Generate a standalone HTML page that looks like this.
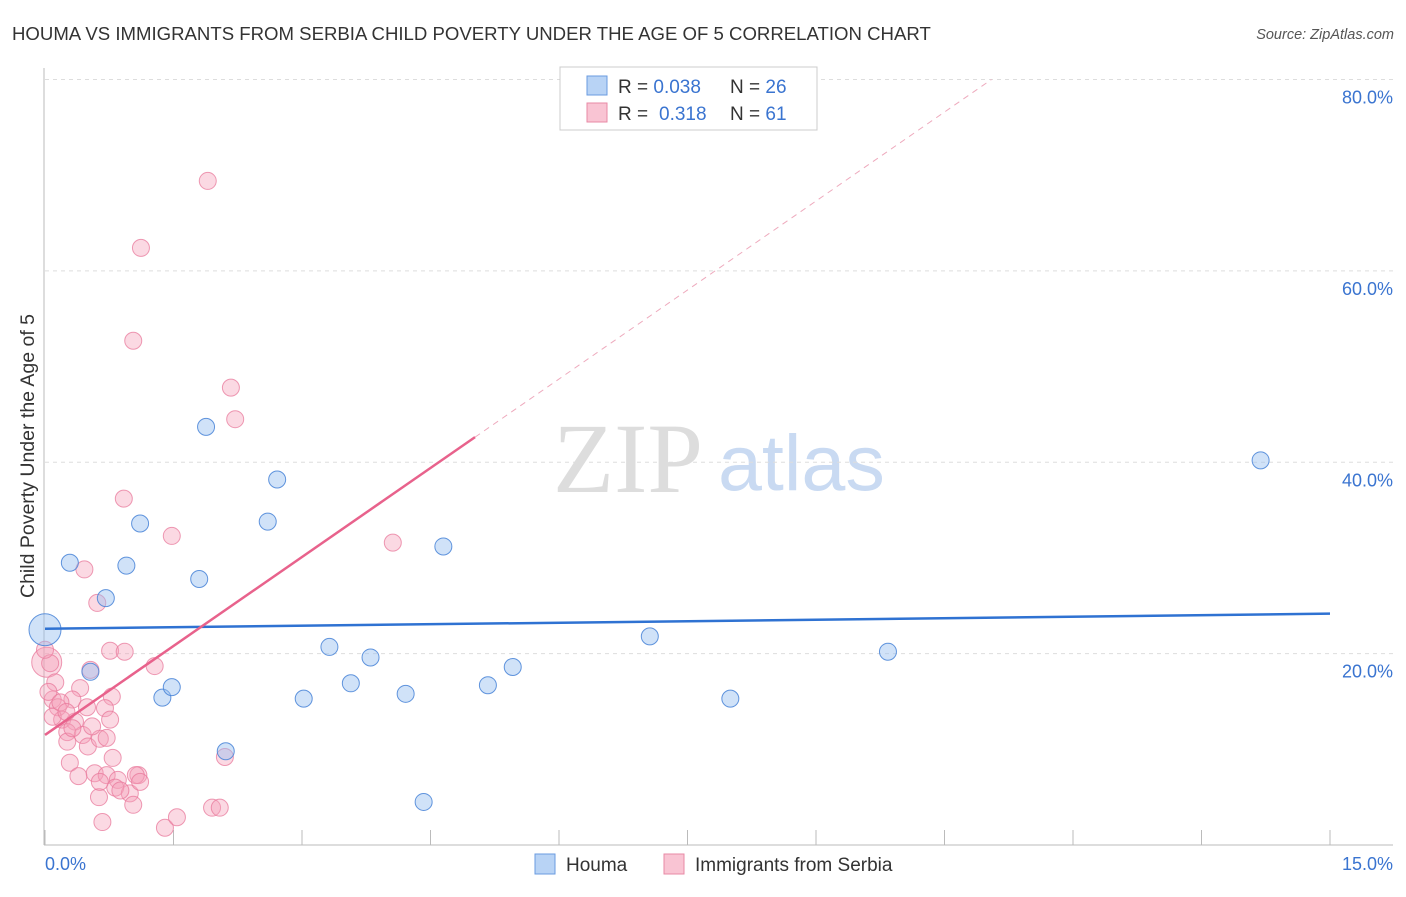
<!DOCTYPE html>
<html><head><meta charset="utf-8"><style>
body{margin:0;background:#fff;font-family:"Liberation Sans",sans-serif;}
</style></head><body>
<svg id="c" width="1406" height="892" xmlns="http://www.w3.org/2000/svg" font-family="Liberation Sans, sans-serif">
<text x="12" y="40" font-size="18.6" fill="#333">HOUMA VS IMMIGRANTS FROM SERBIA CHILD POVERTY UNDER THE AGE OF 5 CORRELATION CHART</text>
<text x="1394" y="39" font-size="14.5" fill="#555" font-style="italic" text-anchor="end">Source: ZipAtlas.com</text>
<text transform="translate(34,456) rotate(-90)" font-size="19.5" fill="#333" text-anchor="middle">Child Poverty Under the Age of 5</text>
<g><text x="553" y="492" font-size="100" fill="#ddd" style="font-family:'Liberation Serif',serif">ZIP</text><text x="718" y="490" font-size="79" fill="#c9daf2">atlas</text></g>
<g id="grid"></g><g id="axes"></g><g id="pts"></g><g id="lines"></g>
<g>
<rect x="560" y="67" width="257" height="63" fill="#fff" stroke="#ccc"/>
<rect x="587" y="76" width="20" height="19" fill="#b8d3f5" stroke="#6a9be0"/>
<rect x="587" y="103" width="20" height="19" fill="#f9c4d3" stroke="#e88aa6"/>
<text x="618" y="93" font-size="19" fill="#333">R = <tspan fill="#3a74d0">0.038</tspan><tspan x="730">N = </tspan><tspan fill="#3a74d0">26</tspan></text>
<text x="618" y="120" font-size="19" fill="#333">R = <tspan fill="#3a74d0" x="659">0.318</tspan><tspan x="730">N = </tspan><tspan fill="#3a74d0">61</tspan></text>
</g>
<g>
<rect x="535" y="854" width="20" height="20" fill="#b8d3f5" stroke="#6a9be0"/>
<text x="566" y="871" font-size="19" fill="#333">Houma</text>
<rect x="664" y="854" width="20" height="20" fill="#f9c4d3" stroke="#e88aa6"/>
<text x="695" y="871" font-size="19" fill="#333">Immigrants from Serbia</text>
</g>
</svg>
<script>
const houmaX=[0,0.29,0.53,0.71,0.95,1.11,1.37,1.48,1.80,1.88,2.11,2.60,2.71,3.02,3.32,3.57,3.80,4.21,4.42,4.65,5.17,5.46,7.06,8.00,9.84,14.19];
const houmaY=[22.5,29.5,18.1,25.8,29.2,33.6,15.4,16.5,27.8,43.7,9.8,33.8,38.2,15.3,20.7,16.9,19.6,15.8,4.5,31.2,16.7,18.6,21.8,15.3,20.2,40.2];
const serbiaX=[0.02,0.76,0.93,1.28,0.53,0.12,0.41,0.09,0.32,0.78,0.70,0.15,0.49,0.20,0.35,0.09,0.26,0.44,0.26,0.50,0.64,0.72,0.79,0.29,0.39,0.58,0.72,0.85,0.82,0.99,1.09,0.63,1.03,0.67,1.40,1.54,2.10,1.95,2.04,0.06,1.90,1.12,1.03,2.17,2.22,0.92,1.48,0.46,0.61,4.06,1.06,0.04,0.18,0.25,0.55,0.32,0.76,0.88,0.0,1.11,0.64];
const serbiaY=[19.1,20.3,20.2,18.7,18.3,17.0,16.4,15.2,15.2,15.5,14.3,14.4,14.4,13.1,12.9,13.4,11.8,11.5,10.8,10.3,11.1,11.2,9.1,8.6,7.2,7.5,7.3,6.8,6.0,5.4,7.3,5.0,4.2,2.4,1.8,2.9,9.2,3.9,3.9,19.0,69.4,62.4,52.7,47.8,44.5,36.2,32.3,28.8,25.3,31.6,7.3,16.0,14.9,13.9,12.4,12.2,13.1,5.7,20.4,6.6,6.6];
const yTicks=[20,40,60,80];
const xTicks=[0,1.5,3,4.5,6,7.5,9,10.5,12,13.5,15];
const houmaFit=[22.6,0.105];
const serbiaFit=[11.5,6.2];
const X=v=>45+v*1285/15, Y=v=>845-v*765.5/80;
const NS="http://www.w3.org/2000/svg";
function mk(p,t,a){const e=document.createElementNS(NS,t);for(const k in a)e.setAttribute(k,a[k]);document.getElementById(p).appendChild(e);return e;}
yTicks.forEach(t=>{
 const l=mk('grid','line',{x1:45,x2:1393,y1:Y(t),y2:Y(t),stroke:'#ddd','stroke-dasharray':'4,4'});
 
 
 const tx=mk('grid','text',{x:1393,y:Y(t)+24,'font-size':18,fill:'#3a74d0','text-anchor':'end'});tx.textContent=t.toFixed(1)+'%';
 
 
});
mk('axes','line',{x1:44,x2:44,y1:68,y2:845,stroke:'#bbb'});
mk('axes','line',{x1:44,x2:1393,y1:845,y2:845,stroke:'#bbb'});
xTicks.forEach(t=>{const l=mk('axes','line',{x1:X(t),x2:X(t),y1:830,y2:845,stroke:'#bbb'});
 
 });
let a=mk('axes','text',{x:45,y:870,'font-size':18,fill:'#3a74d0'});a.textContent=xTicks[0].toFixed(1)+'%';


a=mk('axes','text',{x:1393,y:870,'font-size':18,fill:'#3a74d0','text-anchor':'end'});a.textContent=xTicks[xTicks.length-1].toFixed(1)+'%';


serbiaX.forEach((x,i)=>{const c=mk('pts','circle',{cx:X(x),cy:Y(serbiaY[i]),r:i==0?15:8.5,fill:'rgba(246,160,186,0.4)',stroke:'rgba(232,120,155,0.75)','stroke-width':1});
 
 });
houmaX.forEach((x,i)=>{const c=mk('pts','circle',{cx:X(x),cy:Y(houmaY[i]),r:i==0?16:8.5,fill:'rgba(150,190,240,0.45)',stroke:'rgba(70,130,215,0.85)','stroke-width':1});
 
 });
let l=mk('lines','line',{x1:X(0),x2:X(15),y1:Y(houmaFit[0]),y2:Y(houmaFit[0]+houmaFit[1]*15),stroke:'#2f72d2','stroke-width':2.5});


const sx=5.02, ex=(80-serbiaFit[0])/serbiaFit[1];
l=mk('lines','line',{x1:X(0),x2:X(sx),y1:Y(serbiaFit[0]),y2:Y(serbiaFit[0]+serbiaFit[1]*sx),stroke:'#e8628c','stroke-width':2.5});


l=mk('lines','line',{x1:X(sx),x2:X(ex),y1:Y(serbiaFit[0]+serbiaFit[1]*sx),y2:Y(80),stroke:'#eeaabd','stroke-width':1,'stroke-dasharray':'6,5'});


</script>
</body></html>
